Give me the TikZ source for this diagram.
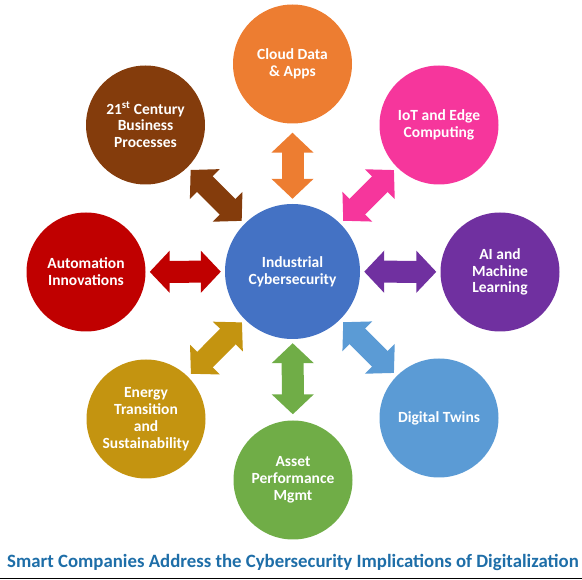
\documentclass[tikz,border=0pt]{standalone}
\usepackage{fontspec}
\setmainfont{Carlito}
\usetikzlibrary{arrows.meta}
\definecolor{cBlue}{RGB}{68,114,196}
\definecolor{cOrange}{RGB}{237,125,49}
\definecolor{cPink}{RGB}{246,54,156}
\definecolor{cPurple}{RGB}{112,48,160}
\definecolor{cSky}{RGB}{91,155,213}
\definecolor{cGreen}{RGB}{112,173,71}
\definecolor{cGold}{RGB}{196,148,16}
\definecolor{cRed}{RGB}{192,0,0}
\definecolor{cBrown}{RGB}{132,60,12}
\definecolor{cCaption}{RGB}{30,110,168}
\tikzset{
  bubble/.style={circle, inner sep=0pt, minimum size=119pt, text=white, align=center,
    font=\fontsize{15.5}{16.8}\selectfont\bfseries},
  hub/.style={bubble, minimum size=135pt},
  dbl/.style={line width=22pt, >={Triangle[length=20pt,width=41pt]}, <->,
    shorten <=4pt, shorten >=4pt}
}
\begin{document}
\begin{tikzpicture}[x=1pt,y=-1pt]
\useasboundingbox (0,0) rectangle (582,580);
\node[hub, fill=cBlue] (hubc) at (292.5,271.5) {Industrial\\Cybersecurity};
\node[bubble, fill=cOrange] (cloud) at (292.5,64) {Cloud Data\\\& Apps};
\node[bubble, fill=cPink] (iot) at (439,125) {IoT and Edge\\Computing};
\node[bubble, fill=cPurple] (ai) at (500,272) {AI and\\Machine\\Learning};
\node[bubble, fill=cSky] (twin) at (439,418) {Digital Twins};
\node[bubble, fill=cGreen] (asset) at (293,480) {Asset\\Performance\\Mgmt};
\node[bubble, fill=cGold] (energy) at (146,419) {Energy\\Transition\\and\\Sustainability};
\node[bubble, fill=cRed] (auto) at (86,272) {Automation\\Innovations};
\node[bubble, fill=cBrown] (biz) at (145.5,125) {21\textsuperscript{st} Century\\Business\\Processes};

\draw[dbl, cOrange, shorten <=9pt, shorten >=5pt] (cloud) -- (hubc);
\draw[dbl, cPink] (iot) -- (hubc);
\draw[dbl, cPurple] (ai) -- (hubc);
\draw[dbl, cSky] (twin) -- (hubc);
\draw[dbl, cGreen, shorten <=6pt, shorten >=4pt] (asset) -- (hubc);
\draw[dbl, cGold] (energy) -- (hubc);
\draw[dbl, cRed] (auto) -- (hubc);
\draw[dbl, cBrown] (biz) -- (hubc);

\node[text=cCaption, font=\fontsize{18.8}{21}\selectfont\bfseries, inner sep=0pt] (caption) at (293,562) {Smart Companies Address the Cybersecurity Implications of Digitalization};
\coordinate (ruleL) at (0,578.5);
\coordinate (ruleR) at (582,578.5);
\draw[line width=1.5pt, black] (ruleL) -- (ruleR);
\end{tikzpicture}
\end{document}
